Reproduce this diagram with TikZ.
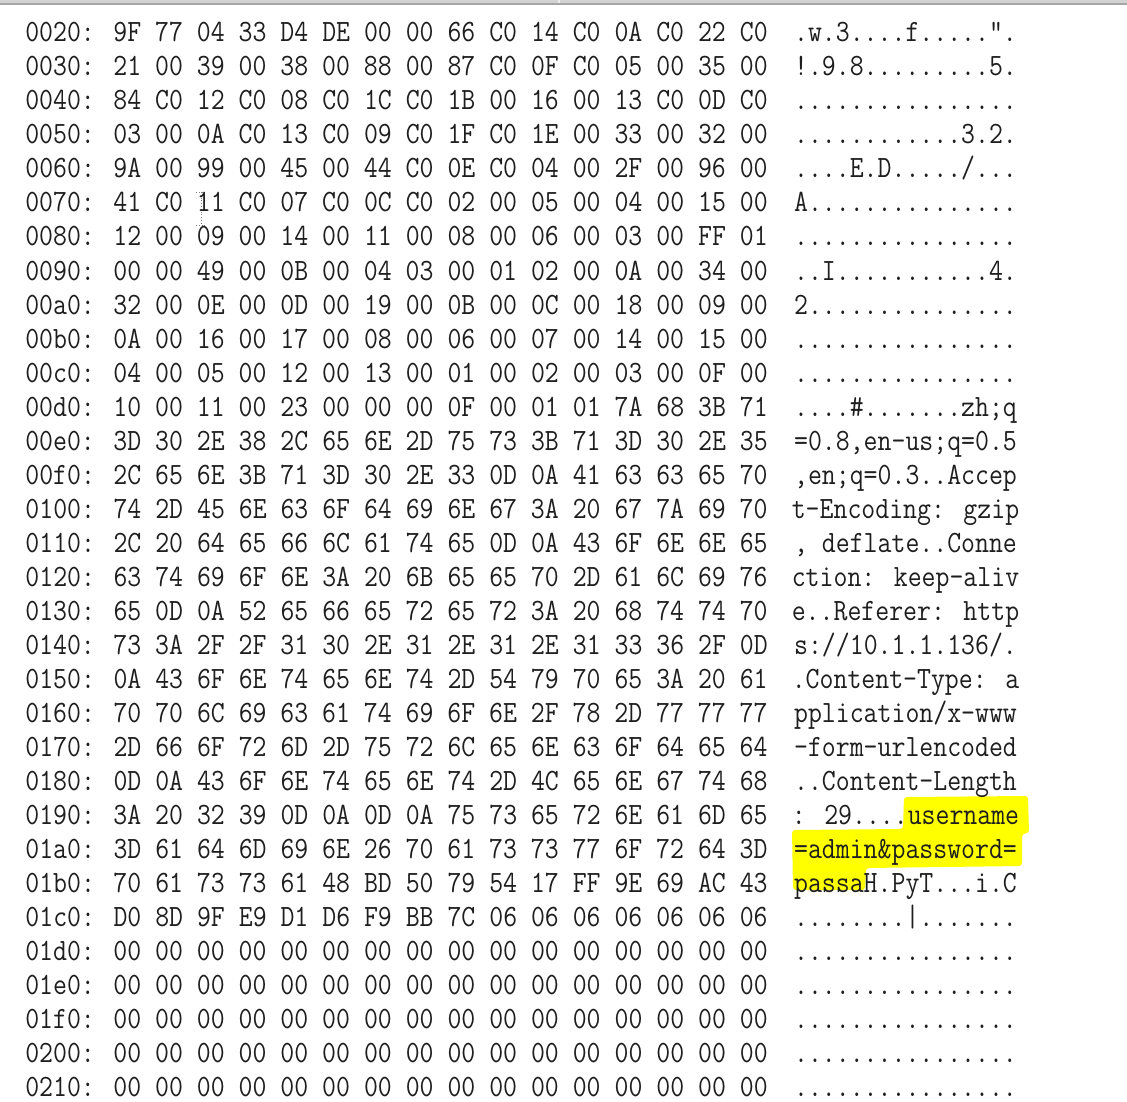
\documentclass[tikz,border=0pt]{standalone}
\usepackage{tikz}
\usetikzlibrary{positioning}
\definecolor{markeryellow}{RGB}{255,255,0}
\definecolor{dumptext}{RGB}{30,30,30}

\begin{document}
\begin{tikzpicture}[x=1pt,y=-1pt,node distance=34pt,
    hexrow/.style={inner sep=0pt,xscale=0.872,text height=22pt,text depth=3pt,
      font=\ttfamily\fontsize{31}{31}\selectfont,text=dumptext},
    ascrow/.style={hexrow}]

  \useasboundingbox (0,0) rectangle (1127,1102);

  % window edge at the top
  \fill[gray!35] (0,0) rectangle (1127,3);
  \fill[gray!70] (0,3) rectangle (1127,5.5);
  \draw[gray!15,line width=1.2pt] (559,0) -- (559,3);

  % marker over the form data
  \fill[markeryellow,rounded corners=3pt] (904,797) -- (1028,796) -- (1029,833)
    -- (1022,834) -- (1022,866) -- (866,868) -- (865,890) -- (793,890)
    -- (792,830) -- (903,829) -- cycle;

  % text cursor
  \draw[gray,dotted,thick] (196,192) -- (207,192) (201.5,192) -- (201.5,224)
    (196,225) -- (207,225);

  % Offsets and bytes
  \node[hexrow] (h0020) at (396.5,32.5) {0020: 9F 77 04 33 D4 DE 00 00 66 C0 14 C0 0A C0 22 C0};
  \node[hexrow] (h0030) [below of=h0020] {0030: 21 00 39 00 38 00 88 00 87 C0 0F C0 05 00 35 00};
  \node[hexrow] (h0040) [below of=h0030] {0040: 84 C0 12 C0 08 C0 1C C0 1B 00 16 00 13 C0 0D C0};
  \node[hexrow] (h0050) [below of=h0040] {0050: 03 00 0A C0 13 C0 09 C0 1F C0 1E 00 33 00 32 00};
  \node[hexrow] (h0060) [below of=h0050] {0060: 9A 00 99 00 45 00 44 C0 0E C0 04 00 2F 00 96 00};
  \node[hexrow] (h0070) [below of=h0060] {0070: 41 C0 11 C0 07 C0 0C C0 02 00 05 00 04 00 15 00};
  \node[hexrow] (h0080) [below of=h0070] {0080: 12 00 09 00 14 00 11 00 08 00 06 00 03 00 FF 01};
  \node[hexrow] (h0090) [below of=h0080] {0090: 00 00 49 00 0B 00 04 03 00 01 02 00 0A 00 34 00};
  \node[hexrow] (h00a0) [below of=h0090] {00a0: 32 00 0E 00 0D 00 19 00 0B 00 0C 00 18 00 09 00};
  \node[hexrow] (h00b0) [below of=h00a0] {00b0: 0A 00 16 00 17 00 08 00 06 00 07 00 14 00 15 00};
  \node[hexrow] (h00c0) [below of=h00b0] {00c0: 04 00 05 00 12 00 13 00 01 00 02 00 03 00 0F 00};
  \node[hexrow] (h00d0) [below of=h00c0] {00d0: 10 00 11 00 23 00 00 00 0F 00 01 01 7A 68 3B 71};
  \node[hexrow] (h00e0) [below of=h00d0] {00e0: 3D 30 2E 38 2C 65 6E 2D 75 73 3B 71 3D 30 2E 35};
  \node[hexrow] (h00f0) [below of=h00e0] {00f0: 2C 65 6E 3B 71 3D 30 2E 33 0D 0A 41 63 63 65 70};
  \node[hexrow] (h0100) [below of=h00f0] {0100: 74 2D 45 6E 63 6F 64 69 6E 67 3A 20 67 7A 69 70};
  \node[hexrow] (h0110) [below of=h0100] {0110: 2C 20 64 65 66 6C 61 74 65 0D 0A 43 6F 6E 6E 65};
  \node[hexrow] (h0120) [below of=h0110] {0120: 63 74 69 6F 6E 3A 20 6B 65 65 70 2D 61 6C 69 76};
  \node[hexrow] (h0130) [below of=h0120] {0130: 65 0D 0A 52 65 66 65 72 65 72 3A 20 68 74 74 70};
  \node[hexrow] (h0140) [below of=h0130] {0140: 73 3A 2F 2F 31 30 2E 31 2E 31 2E 31 33 36 2F 0D};
  \node[hexrow] (h0150) [below of=h0140] {0150: 0A 43 6F 6E 74 65 6E 74 2D 54 79 70 65 3A 20 61};
  \node[hexrow] (h0160) [below of=h0150] {0160: 70 70 6C 69 63 61 74 69 6F 6E 2F 78 2D 77 77 77};
  \node[hexrow] (h0170) [below of=h0160] {0170: 2D 66 6F 72 6D 2D 75 72 6C 65 6E 63 6F 64 65 64};
  \node[hexrow] (h0180) [below of=h0170] {0180: 0D 0A 43 6F 6E 74 65 6E 74 2D 4C 65 6E 67 74 68};
  \node[hexrow] (h0190) [below of=h0180] {0190: 3A 20 32 39 0D 0A 0D 0A 75 73 65 72 6E 61 6D 65};
  \node[hexrow] (h01a0) [below of=h0190] {01a0: 3D 61 64 6D 69 6E 26 70 61 73 73 77 6F 72 64 3D};
  \node[hexrow] (h01b0) [below of=h01a0] {01b0: 70 61 73 73 61 48 BD 50 79 54 17 FF 9E 69 AC 43};
  \node[hexrow] (h01c0) [below of=h01b0] {01c0: D0 8D 9F E9 D1 D6 F9 BB 7C 06 06 06 06 06 06 06};
  \node[hexrow] (h01d0) [below of=h01c0] {01d0: 00 00 00 00 00 00 00 00 00 00 00 00 00 00 00 00};
  \node[hexrow] (h01e0) [below of=h01d0] {01e0: 00 00 00 00 00 00 00 00 00 00 00 00 00 00 00 00};
  \node[hexrow] (h01f0) [below of=h01e0] {01f0: 00 00 00 00 00 00 00 00 00 00 00 00 00 00 00 00};
  \node[hexrow] (h0200) [below of=h01f0] {0200: 00 00 00 00 00 00 00 00 00 00 00 00 00 00 00 00};
  \node[hexrow] (h0210) [below of=h0200] {0210: 00 00 00 00 00 00 00 00 00 00 00 00 00 00 00 00};

  % Printable characters
  \node[ascrow] (a0020) at (905.5,32.5) {.w.3....f.....”.};
  \node[ascrow] (a0030) [below of=a0020] {!.9.8.........5.};
  \node[ascrow] (a0040) [below of=a0030] {................};
  \node[ascrow] (a0050) [below of=a0040] {............3.2.};
  \node[ascrow] (a0060) [below of=a0050] {....E.D...../...};
  \node[ascrow] (a0070) [below of=a0060] {A...............};
  \node[ascrow] (a0080) [below of=a0070] {................};
  \node[ascrow] (a0090) [below of=a0080] {..I...........4.};
  \node[ascrow] (a00a0) [below of=a0090] {2...............};
  \node[ascrow] (a00b0) [below of=a00a0] {................};
  \node[ascrow] (a00c0) [below of=a00b0] {................};
  \node[ascrow] (a00d0) [below of=a00c0] {....\#.......zh;q};
  \node[ascrow] (a00e0) [below of=a00d0] {=0.8,en-us;q=0.5};
  \node[ascrow] (a00f0) [below of=a00e0] {,en;q=0.3..Accep};
  \node[ascrow] (a0100) [below of=a00f0] {t-Encoding: gzip};
  \node[ascrow] (a0110) [below of=a0100] {, deflate..Conne};
  \node[ascrow] (a0120) [below of=a0110] {ction: keep-aliv};
  \node[ascrow] (a0130) [below of=a0120] {e..Referer: http};
  \node[ascrow] (a0140) [below of=a0130] {s://10.1.1.136/.};
  \node[ascrow] (a0150) [below of=a0140] {.Content-Type: a};
  \node[ascrow] (a0160) [below of=a0150] {pplication/x-www};
  \node[ascrow] (a0170) [below of=a0160] {-form-urlencoded};
  \node[ascrow] (a0180) [below of=a0170] {..Content-Length};
  \node[ascrow] (a0190) [below of=a0180] {: 29....username};
  \node[ascrow] (a01a0) [below of=a0190] {=admin\&password=};
  \node[ascrow] (a01b0) [below of=a01a0] {passaH.PyT...i.C};
  \node[ascrow] (a01c0) [below of=a01b0] {........|.......};
  \node[ascrow] (a01d0) [below of=a01c0] {................};
  \node[ascrow] (a01e0) [below of=a01d0] {................};
  \node[ascrow] (a01f0) [below of=a01e0] {................};
  \node[ascrow] (a0200) [below of=a01f0] {................};
  \node[ascrow] (a0210) [below of=a0200] {................};

\end{tikzpicture}
\end{document}
